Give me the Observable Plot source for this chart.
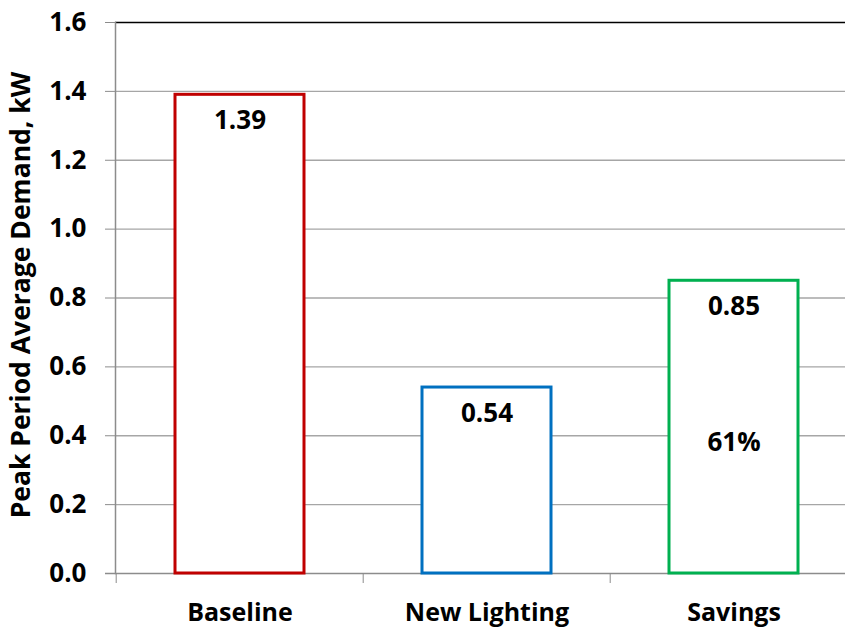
<!DOCTYPE html>
<html>
<head>
<meta charset="utf-8">
<script src="https://cdn.jsdelivr.net/npm/d3@7"></script>
<script src="https://cdn.jsdelivr.net/npm/@observablehq/plot@0.6"></script>
<style>
  html, body { margin: 0; padding: 0; background: #fff; }
  #chart svg { font-family: "Open Sans", sans-serif; }
</style>
</head>
<body>
<div id="chart"></div>
<script>
const categories = ["Baseline", "New Lighting", "Savings"];
const values = [1.39, 0.54, 0.85];
const colors = ["#C00000", "#0070C0", "#00B050"];
const yTicks = [0, 0.2, 0.4, 0.6, 0.8, 1.0, 1.2, 1.4, 1.6];
const pctCategory = ["Savings"];
const pctLabels = ["61%"];
const pctY = [0.38];
const yLabel = "Peak Period Average Demand, kW";

const data = categories.map((c, i) => ({cat: c, v: values[i], color: colors[i]}));
const pct = pctCategory.map((c, i) => ({cat: c, y: pctY[i], label: pctLabels[i]}));

const FONT = "'Open Sans', sans-serif";
const W = 845, H = 629;
const plot = Plot.plot({
  width: W,
  height: H,
  marginLeft: 115,
  marginTop: 22,
  marginBottom: 56,
  marginRight: -13,
  style: {fontFamily: FONT, overflow: "visible"},
  x: {domain: categories, padding: 0, label: null},
  y: {domain: [0, 1.6], label: null},
  marks: [
    Plot.ruleY(yTicks.filter(d => d > 0 && d < 1.6), {stroke: "#a6a6a6", strokeWidth: 1.3}),
    Plot.ruleY(yTicks.filter(d => d === 1.6), {stroke: "#000", strokeWidth: 1.5}),
    Plot.frame({anchor: "left", stroke: "#8c8c8c", strokeWidth: 1.5}),
    Plot.ruleY([0], {stroke: "#8c8c8c", strokeWidth: 1.5, insetLeft: -10}),
    Plot.axisY({ticks: yTicks, tickSize: 10, tickPadding: 19, stroke: "#8c8c8c",
      tickFormat: d3.format(".1f"), fontSize: 26, fontWeight: "bold", fill: "#000", label: null}),
    Plot.axisX({tickSize: 10, dx: -123.8, tickFormat: () => "", stroke: "#8c8c8c", label: null}),
    Plot.axisX({tickSize: 0, tickPadding: 30, fontSize: 25, fontWeight: "bold", fill: "#000", label: null}),
    Plot.barY(data, {x: "cat", y: "v", fill: "white", stroke: "color", strokeWidth: 3,
      insetLeft: 59, insetRight: 59}),
    Plot.text(data, {x: "cat", y: "v", text: d => d3.format(".2f")(d.v), dy: 26,
      fontSize: 26, fontWeight: "bold", fill: "#000"}),
    Plot.text(pct, {x: "cat", y: "y", text: "label", fontSize: 26, fontWeight: "bold", fill: "#000"})
  ]
});

// y-axis title as real text
const svg = d3.select(plot);
svg.append("text")
  .attr("transform", `translate(23, 295) rotate(-90)`)
  .attr("text-anchor", "middle")
  .attr("dominant-baseline", "middle")
  .attr("font-family", FONT)
  .attr("font-size", 26.5)
  .attr("font-weight", "bold")
  .attr("fill", "#000")
  .text(yLabel);

document.getElementById("chart").appendChild(plot);
</script>
</body>
</html>
